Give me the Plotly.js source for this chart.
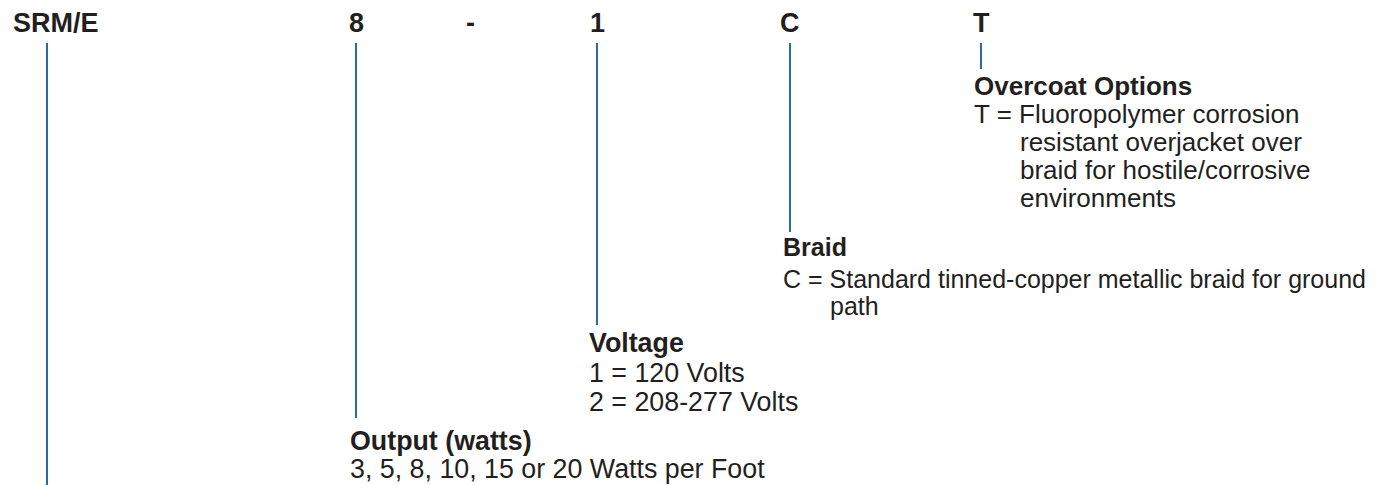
<!DOCTYPE html>
<html>
<head>
<meta charset="utf-8">
<script src="https://cdn.plot.ly/plotly-3.0.1.min.js"></script>
<style>
  html, body { margin: 0; padding: 0; background: #ffffff; }
  #chart { width: 1381px; height: 485px; }
</style>
</head>
<body>
<div id="chart"></div>
<script>
// ---- content ----
const codes = ['SRM/E', '8', '-', '1', 'C', 'T'];
const sectionTitles = ['Output (watts)', 'Voltage', 'Braid', 'Overcoat Options'];
const outputLines = ['3, 5, 8, 10, 15 or 20 Watts per Foot'];
const voltageLines = ['1 = 120 Volts', '2 = 208-277 Volts'];
const braidLines = ['C = Standard tinned-copper metallic braid for ground', 'path'];
const overcoatLines = ['T = Fluoropolymer corrosion', 'resistant overjacket over', 'braid for hostile/corrosive', 'environments'];

// ---- layout (pixel-space positions) ----
const W = 1381, H = 485;
const codeTextX = [12, 356, 470, 597, 790, 981];
const codeAnchor = ['left', 'center', 'center', 'center', 'center', 'center'];
const headerY = 23;
const leaderX = [47, 356, null, 597, 790, 981];
const leaderTop = 43;
const leaderBottom = [485, 418, null, 325, 232, 69];
const blocks = [
  { lines: outputLines,   x: 349, titleY: 441, dy: 28, firstGap: 28, indentX: 349, size: 26.8 },
  { lines: voltageLines,  x: 588, titleY: 343, dy: 29, firstGap: 30, indentX: 588, size: 26.8 },
  { lines: braidLines,    x: 782, titleY: 247, dy: 27, firstGap: 32, indentX: 829, size: 25 },
  { lines: overcoatLines, x: 973, titleY: 86,  dy: 28, firstGap: 28, indentX: 1019, size: 26 }
];

const TEXT = '#231f20';
const BLUE = '#3068a6';
const FONT = '"Liberation Sans", Arial, Helvetica, sans-serif';
const HEAD = 27;

const traces = [];
leaderX.forEach((x, i) => {
  if (x === null) return;
  traces.push({
    type: 'scatter', mode: 'lines',
    x: [x, x], y: [leaderTop, leaderBottom[i]],
    line: { color: BLUE, width: 2 },
    hoverinfo: 'skip', showlegend: false
  });
});

const annotations = [];
codes.forEach((c, i) => {
  annotations.push({
    x: codeTextX[i], y: headerY, xref: 'x', yref: 'y',
    text: '<b>' + c + '</b>', showarrow: false,
    xanchor: codeAnchor[i], yanchor: 'middle', borderpad: 0,
    font: { family: FONT, size: HEAD, color: TEXT }
  });
});
blocks.forEach((b, i) => {
  annotations.push({
    x: b.x, y: b.titleY, xref: 'x', yref: 'y',
    text: '<b>' + sectionTitles[i] + '</b>', showarrow: false,
    xanchor: 'left', yanchor: 'middle', borderpad: 0,
    font: { family: FONT, size: b.size, color: TEXT }
  });
  b.lines.forEach((ln, j) => {
    annotations.push({
      x: j === 0 ? b.x : b.indentX,
      y: b.titleY + b.firstGap + j * b.dy,
      xref: 'x', yref: 'y',
      text: ln, showarrow: false,
      xanchor: 'left', yanchor: 'middle', borderpad: 0,
      font: { family: FONT, size: b.size, color: TEXT }
    });
  });
});

const layout = {
  width: W, height: H,
  margin: { l: 0, r: 0, t: 0, b: 0, pad: 0 },
  paper_bgcolor: '#ffffff', plot_bgcolor: '#ffffff',
  xaxis: { range: [0, W], visible: false, fixedrange: true },
  yaxis: { range: [H, 0], visible: false, fixedrange: true },
  annotations: annotations,
  showlegend: false
};

Plotly.newPlot('chart', traces, layout, { staticPlot: true, displayModeBar: false });
</script>
</body>
</html>
